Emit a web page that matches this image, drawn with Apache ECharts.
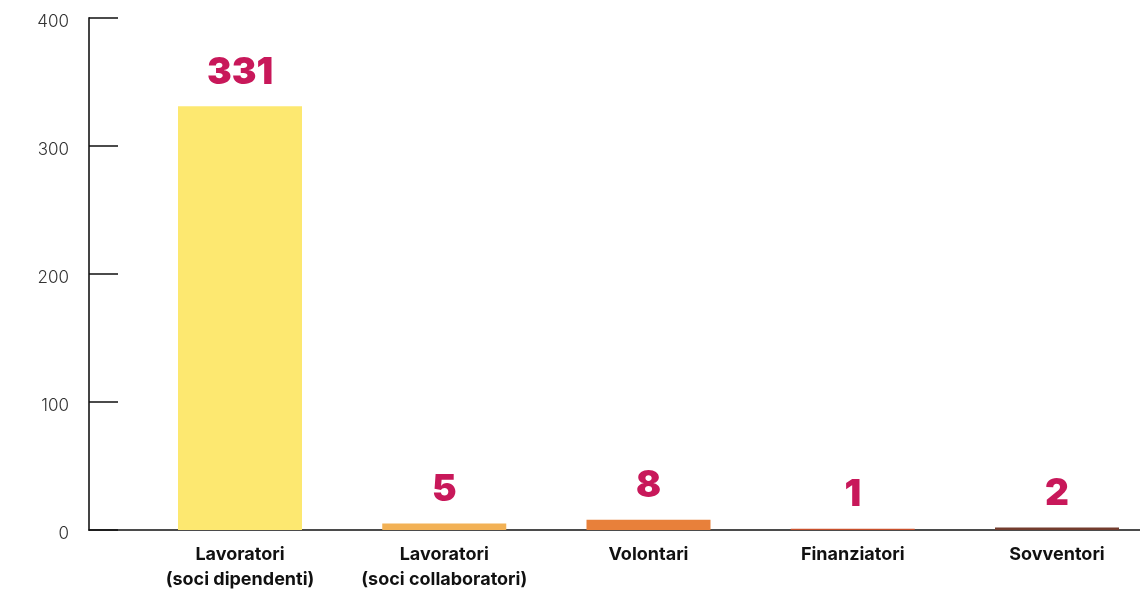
<!DOCTYPE html>
<html>
<head>
<meta charset="utf-8">
<script src="https://cdn.jsdelivr.net/npm/echarts@6/dist/echarts.min.js"></script>
<style>
  html, body { margin: 0; padding: 0; background: #ffffff; }
  #chart { width: 1140px; height: 589px; }
</style>
</head>
<body>
<div id="chart"></div>
<script>
// Membership categories and their counts
const categories = [
  'Lavoratori\n(soci dipendenti)',
  'Lavoratori\n(soci collaboratori)',
  'Volontari',
  'Finanziatori',
  'Sovventori'
];
const values = [331, 5, 8, 1, 2];
const barColors = ['#fde870', '#f2b155', '#e8803a', '#c9502c', '#733c2e'];
const yTicks = [0, 100, 200, 300, 400];

const chart = echarts.init(document.getElementById('chart'), null, { renderer: 'canvas' });

const fontFamily = 'Inter, "Open Sans", "Noto Sans", sans-serif';

chart.setOption({
  animation: false,
  backgroundColor: '#ffffff',
  grid: [
    // bars: categories sit on the ticks, first to last
    { left: 240, top: 18, width: 817, height: 512, outerBoundsMode: 'none', containLabel: false },
    // frame: value axis and baseline
    { left: 89, top: 18, width: 1051, height: 512, outerBoundsMode: 'none', containLabel: false }
  ],
  xAxis: [
    {
      gridIndex: 0,
      type: 'category',
      data: categories,
      boundaryGap: false,
      axisLine: { show: false },
      axisTick: { show: false },
      axisLabel: {
        color: '#111111',
        fontFamily: fontFamily,
        fontWeight: 700,
        fontSize: 18,
        lineHeight: 25,
        margin: 12,
        interval: 0
      }
    },
    {
      gridIndex: 1,
      type: 'category',
      data: [],
      axisLine: { show: true, lineStyle: { color: '#111111', width: 1.5 } },
      axisTick: { show: false },
      axisLabel: { show: false }
    }
  ],
  yAxis: [
    {
      gridIndex: 0,
      type: 'value',
      min: yTicks[0],
      max: yTicks[yTicks.length - 1],
      interval: 100,
      show: false
    },
    {
      gridIndex: 1,
      type: 'value',
      min: yTicks[0],
      max: yTicks[yTicks.length - 1],
      interval: 100,
      splitLine: { show: false },
      axisLine: { show: true, lineStyle: { color: '#444444', width: 2 } },
      axisTick: { show: true, inside: true, length: 29, lineStyle: { color: '#111111', width: 1.5 } },
      axisLabel: {
        margin: 20,
        formatter: '{t|{value}}',
        rich: {
          t: {
            color: '#333333',
            fontFamily: fontFamily,
            fontWeight: 300,
            fontSize: 17,
            padding: [8, 0, 0, 0]
          }
        }
      }
    }
  ],
  series: [
    {
      type: 'bar',
      xAxisIndex: 0,
      yAxisIndex: 0,
      barWidth: 124,
      clip: false,
      data: values.map((v, i) => ({ value: v, itemStyle: { color: barColors[i] } })),
      label: {
        show: true,
        position: 'top',
        distance: 15,
        color: '#c8185a',
        fontFamily: fontFamily,
        fontWeight: 900,
        fontSize: 37
      }
    }
  ]
});
</script>
</body>
</html>
